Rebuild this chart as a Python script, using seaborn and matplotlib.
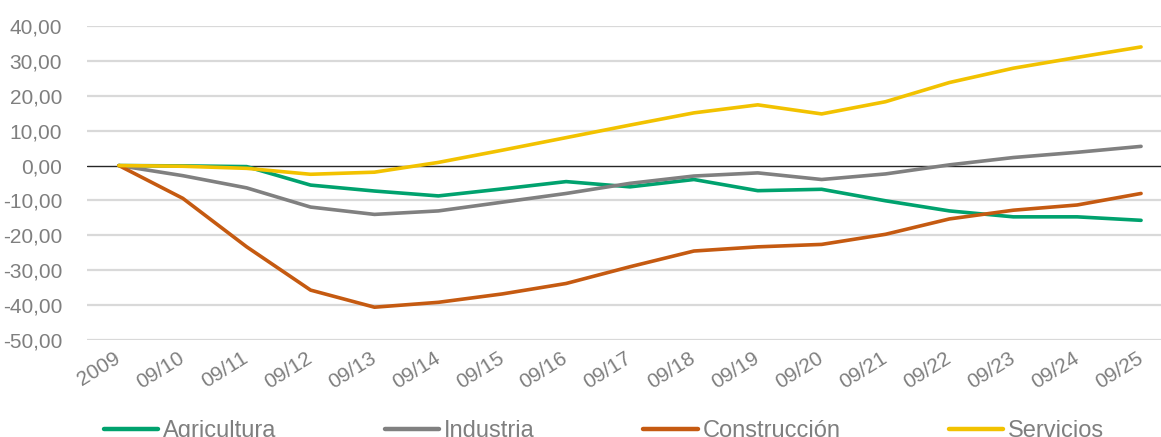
import numpy as np
import pandas as pd
import matplotlib
matplotlib.use("Agg")
import matplotlib.pyplot as plt
import seaborn as sns
from matplotlib.ticker import FuncFormatter

periods = ["2009", "09/10", "09/11", "09/12", "09/13", "09/14", "09/15", "09/16",
           "09/17", "09/18", "09/19", "09/20", "09/21", "09/22", "09/23", "09/24", "09/25"]

agricultura = [0.0, -0.1, -0.3, -5.6, -7.3, -8.7, -6.7, -4.6, -6.1, -4.0, -7.2,
               -6.8, -10.1, -13.0, -14.7, -14.7, -15.7]
industria = [0.0, -2.9, -6.4, -11.9, -14.0, -13.0, -10.5, -8.0, -5.1, -3.0, -2.1,
             -4.0, -2.4, 0.2, 2.3, 3.8, 5.5]
construccion = [0.0, -9.4, -23.3, -35.7, -40.6, -39.2, -36.8, -33.8, -29.0, -24.5, -23.3,
                -22.6, -19.7, -15.3, -12.8, -11.3, -8.0]
servicios = [0.0, -0.2, -0.8, -2.5, -1.9, 0.9, 4.4, 8.0, 11.6, 15.1, 17.4,
             14.8, 18.3, 23.8, 27.9, 31.0, 34.0]

series = {
    "Agricultura": agricultura,
    "Industria": industria,
    "Construcción": construccion,
    "Servicios": servicios,
}
colors = {
    "Agricultura": "#00A26E",
    "Industria": "#808080",
    "Construcción": "#C55A11",
    "Servicios": "#F2C200",
}

# long format for seaborn
rows = []
for name, vals in series.items():
    for i, v in enumerate(vals):
        rows.append({"pos": i, "valor": v, "sector": name})
df = pd.DataFrame(rows)

sns.set_theme(style="white")
plt.rcParams["font.family"] = ["Liberation Sans", "DejaVu Sans"]

text_grey = "#7F7F7F"

fig = plt.figure(figsize=(11.61, 4.37), dpi=100)
ax = fig.add_axes([87 / 1161, 1 - 340 / 437, (1173 - 87) / 1161, (340 - 26) / 437])

for y in range(-50, 50, 10):
    if y != 0:
        ax.axhline(y, color="#D9D9D9", linewidth=1.6, zorder=0)
ax.axhline(0, color="#262626", linewidth=1.0, zorder=1)

sns.lineplot(data=df, x="pos", y="valor", hue="sector", palette=colors,
             linewidth=2.6, ax=ax, legend=False, zorder=3)

ax.set_xlim(-0.5, len(periods) - 0.5)
ax.set_ylim(-50, 40)
ax.set_yticks(range(-50, 41, 10))
ax.yaxis.set_major_formatter(FuncFormatter(lambda v, p: f"{v:.2f}".replace(".", ",")))
ax.set_xticks(range(len(periods)))
ax.set_xticklabels(periods, rotation=32, ha="right", va="center", rotation_mode="anchor")
ax.tick_params(axis="x", length=0, pad=12, labelsize=15, labelcolor=text_grey)
ax.tick_params(axis="y", length=0, pad=18, labelsize=15, labelcolor=text_grey)
ax.set_xlabel("")
ax.set_ylabel("")
for s in ax.spines.values():
    s.set_visible(False)

handles = [plt.Line2D([], [], color=colors[n], linewidth=3.2) for n in series]
fig.legend(handles, list(series.keys()), loc="center", ncol=4,
           bbox_to_anchor=(604 / 1161, 1 - 431 / 437), frameon=False,
           fontsize=17, labelcolor=text_grey, handlelength=2.3,
           handletextpad=0.2, columnspacing=4.6)

fig.savefig("out.png", dpi=100)
